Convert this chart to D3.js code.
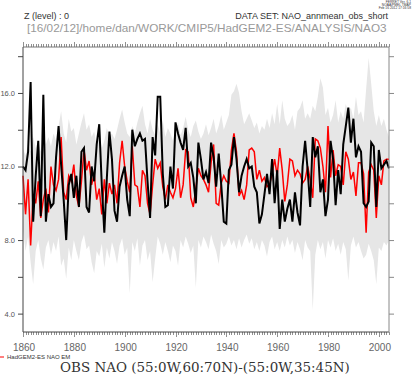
<!DOCTYPE html>
<html>
<head>
<meta charset="utf-8">
<script src="https://cdn.jsdelivr.net/npm/d3@7"></script>
<style>
body { margin: 0; background: #fff; }
</style>
</head>
<body>
<svg id="plot"></svg>
<script>
const WIDTH = 413;
const HEIGHT = 377;

const LEFT = 23;
const RIGHT = 389;
const TOP = 47;
const BOTTOM = 332;

const YEAR_MIN = 1860;
const YEAR_MAX = 2004;
const Y_MIN = 3.0;
const Y_MAX = 18.5;

const SANS = "Liberation Sans, DejaVu Sans, sans-serif";
const SERIF = "DejaVu Serif, Liberation Serif, serif";

// one value per year, 1860..2004
const years = d3.range(1860, 2005);

const obsNao = [
	12.0, 11.8, 12.8, 16.6, 9.0, 11.5, 13.4, 9.3, 15.9, 9.0,
	10.5, 9.8, 10.0, 12.5, 14.2, 12.1, 10.2, 8.0, 11.0, 11.6,
	10.3, 11.5, 9.8, 12.8, 13.0, 9.8, 9.5, 12.0, 11.2, 13.2,
	14.3, 11.0, 8.4, 11.4, 13.9, 12.4, 9.6, 9.0, 10.9, 11.5,
	12.0, 10.2, 9.3, 14.0, 13.1, 13.5, 13.8, 13.4, 13.5, 11.2,
	9.2, 13.6, 12.6, 15.8, 15.8, 11.6, 9.8, 9.9, 12.0, 10.8,
	14.4, 13.8, 13.3, 12.9, 14.1, 12.0, 12.2, 11.4, 10.0, 13.3,
	12.4, 11.3, 11.7, 11.1, 13.3, 12.5, 10.9, 12.7, 11.0, 9.0,
	8.9, 11.8, 12.1, 13.6, 12.4, 10.6, 11.5, 12.0, 12.4, 11.9,
	12.0, 10.9, 10.6, 8.9, 9.4, 10.5, 11.6, 10.5, 12.4, 10.0,
	11.8, 8.6, 10.2, 9.0, 9.7, 10.2, 9.0, 10.6, 9.5, 8.8,
	12.0, 13.4, 11.8, 9.8, 13.6, 12.5, 13.1, 10.6, 11.3, 9.3,
	10.2, 13.4, 12.4, 9.9, 11.8, 10.5, 13.2, 14.2, 15.2, 13.3,
	14.6, 12.5, 13.1, 12.8, 10.0, 9.8, 10.1, 13.3, 13.1, 9.8,
	12.9, 11.9, 12.1, 12.3, 11.9,
];

const modelMean = [
	11.5, 9.4, 11.3, 7.7, 10.5, 10.0, 11.2, 9.2, 10.2, 10.8,
	9.5, 12.0, 11.0, 10.7, 11.3, 13.6, 10.6, 10.2, 11.5, 11.2,
	12.1, 10.4, 9.8, 11.2, 12.9, 11.8, 12.3, 11.0, 11.6, 10.2,
	10.8, 9.4, 11.3, 10.0, 11.1, 10.5, 11.0, 10.0, 12.2, 13.4,
	12.0, 11.2, 10.6, 13.1, 11.0, 10.9, 9.8, 11.8, 11.5, 10.0,
	9.4, 11.0, 12.4, 11.9, 12.2, 10.9, 10.2, 11.0, 10.6, 10.3,
	10.8, 11.9, 10.3, 11.0, 12.9, 12.8, 10.3, 9.8, 10.8, 11.9,
	11.5, 11.3, 11.0, 10.6, 12.2, 13.2, 10.0, 9.9, 11.1, 11.5,
	11.2, 11.1, 12.9, 13.8, 12.8, 10.4, 10.7, 10.2, 11.0, 12.9,
	13.0, 12.8, 11.3, 11.8, 11.2, 11.4, 10.9, 11.0, 11.6, 12.4,
	11.5, 13.0, 11.8, 10.1, 11.0, 12.4, 12.3, 11.5, 11.8, 11.6,
	11.1, 11.3, 12.0, 11.3, 10.3, 13.5, 13.4, 13.0, 12.0, 10.6,
	14.2, 11.4, 12.9, 11.5, 12.1, 12.0, 11.0, 12.8, 12.4, 11.3,
	11.7, 10.4, 12.2, 12.2, 11.6, 8.4, 11.7, 12.1, 11.8, 9.2,
	11.5, 11.0, 12.3, 12.4, 12.4,
];

const modelMax = [
	13.0, 12.6, 13.2, 12.8, 13.6, 13.0, 13.4, 12.8, 13.9, 13.2,
	13.6, 13.1, 13.8, 13.4, 14.2, 15.0, 13.8, 13.3, 14.6, 13.9,
	14.1, 13.2, 13.8, 14.4, 14.9, 14.0, 14.3, 13.6, 13.9, 13.1,
	13.8, 13.0, 13.4, 14.1, 13.6, 13.8, 13.5, 14.0, 14.6, 15.1,
	14.4, 13.8, 13.6, 14.2, 13.8, 14.4, 14.9, 15.3, 14.3, 13.8,
	14.6, 14.0, 13.7, 14.3, 13.8, 14.5, 13.6, 14.1, 13.8, 13.4,
	14.0, 14.4, 13.7, 14.1, 14.7, 14.0, 13.6, 14.2, 14.5, 13.9,
	13.5, 13.8, 14.3, 13.7, 14.1, 14.6, 13.8, 14.2, 14.8, 14.0,
	14.4, 14.8, 15.9, 16.1, 16.5, 16.0, 15.0, 14.3, 14.6, 14.9,
	14.5, 14.1, 14.4, 13.8, 14.2, 14.0, 14.6, 14.1, 14.9, 14.3,
	15.4, 14.3, 15.6, 14.6, 14.2, 14.4, 14.8, 14.0, 15.0, 15.2,
	15.6, 14.6, 14.9, 14.6, 15.3, 15.0, 15.8, 16.8, 16.3, 14.8,
	15.2, 14.4, 14.8, 15.6, 14.4, 15.0, 14.6, 15.4, 14.9, 15.2,
	14.6, 15.8, 14.8, 15.0, 14.4, 16.2, 17.9, 16.5, 15.0, 14.2,
	14.8, 14.2, 14.6, 14.0, 13.6,
];

const modelMin = [
	8.6, 7.4, 8.2, 6.8, 5.6, 7.4, 8.0, 7.0, 6.4, 7.6,
	8.0, 7.2, 7.9, 7.4, 8.2, 6.6, 7.0, 5.9, 7.6, 6.9,
	8.0, 7.4, 6.9, 7.9, 8.3, 7.5, 7.7, 6.8, 6.2, 7.4,
	7.1, 7.8, 6.5, 7.6, 7.0, 7.9, 7.4, 6.7, 7.7, 8.1,
	7.2, 7.6, 5.1, 7.9, 7.4, 8.1, 6.6, 7.7, 8.0, 6.9,
	7.4, 5.7, 7.0, 8.2, 7.8, 7.2, 7.9, 7.4, 6.8, 7.7,
	7.4, 6.6, 8.0, 7.6, 8.2, 7.8, 7.3, 7.7, 5.4, 8.0,
	7.6, 8.2, 7.9, 7.5, 8.3, 7.8, 7.4, 6.7, 8.0, 7.6,
	7.8, 8.2, 7.7, 8.0, 7.5, 8.1, 7.6, 8.0, 8.3, 7.8,
	8.1, 7.5, 7.9, 7.4, 8.0, 7.7, 7.1, 7.9, 8.2, 7.5,
	7.9, 7.4, 8.0, 7.6, 8.2, 7.7, 8.0, 7.3, 7.9, 7.5,
	6.9, 8.0, 7.6, 7.4, 4.2, 7.2, 8.0, 7.5, 7.9, 7.0,
	8.0, 7.6, 8.1, 7.4, 7.8, 7.2, 7.9, 7.5, 5.8, 7.7,
	8.2, 7.6, 7.9, 7.4, 7.0, 7.2, 7.8, 7.4, 6.9, 5.6,
	7.6, 7.4, 7.9, 7.7, 8.0,
];

const yTicks = [4, 6, 8, 10, 12, 14, 16, 18];
const yLabels = [4, 8, 12, 16];
const xLabels = [1860, 1880, 1900, 1920, 1940, 1960, 1980, 2000];

const plot = d3.select("#plot").attr("width", WIDTH).attr("height", HEIGHT);

const xScale = d3.scaleLinear([YEAR_MIN, YEAR_MAX], [LEFT, RIGHT]);
const yScale = d3.scaleLinear([Y_MIN, Y_MAX], [BOTTOM, TOP]);

const rows = years.map((year, i) => ({
	year,
	obs: obsNao[i],
	mean: modelMean[i],
	lo: modelMin[i],
	hi: modelMax[i],
}));

// squeeze a text into a given width by picking its font size
function fitText(sel, width) {
	const node = sel.node();
	const size = parseFloat(sel.attr("font-size"));
	const w = node.getComputedTextLength();
	sel.attr("font-size", (size * width) / w);
	return sel;
}

// ensemble spread
plot.append("path")
	.datum(rows)
	.attr("d", d3.area()
		.x(d => xScale(d.year))
		.y0(d => yScale(d.lo))
		.y1(d => yScale(d.hi)))
	.attr("fill", "#e6e6e6");

plot.append("path")
	.datum(rows)
	.attr("d", d3.line().x(d => xScale(d.year)).y(d => yScale(d.mean)))
	.attr("fill", "none")
	.attr("stroke", "#ff0000")
	.attr("stroke-width", 1.5);

plot.append("path")
	.datum(rows)
	.attr("d", d3.line().x(d => xScale(d.year)).y(d => yScale(d.obs)))
	.attr("fill", "none")
	.attr("stroke", "#000")
	.attr("stroke-width", 2);

// frame and ticks, FERRET style
const axisColor = "#444";
const allYears = d3.range(YEAR_MIN, YEAR_MAX + 1);

const xTickG = plot.append("g").attr("stroke", axisColor).attr("stroke-width", 0.6);
for (const yr of allYears) {
	const major = yr % 20 === 0;
	const x = Math.round(xScale(yr)) + 0.5;
	xTickG.append("line")
		.attr("x1", x).attr("x2", x)
		.attr("y1", BOTTOM).attr("y2", BOTTOM + (major ? 5 : 3));
	xTickG.append("line")
		.attr("x1", x).attr("x2", x)
		.attr("y1", TOP).attr("y2", TOP - (major ? 5 : 3));
}

plot.append("line")
	.attr("x1", LEFT).attr("x2", RIGHT)
	.attr("y1", BOTTOM).attr("y2", BOTTOM)
	.attr("stroke", axisColor);
plot.append("line")
	.attr("x1", LEFT).attr("x2", RIGHT)
	.attr("y1", TOP).attr("y2", TOP)
	.attr("stroke", "#777");

const leftAxis = d3.axisLeft(yScale)
	.tickValues(yTicks)
	.tickSize(5)
	.tickFormat(d => (yLabels.includes(d) ? d3.format(".1f")(d) : ""));
plot.append("g")
	.attr("transform", `translate(${LEFT},0)`)
	.call(leftAxis)
	.call(g => g.select(".domain").attr("stroke", axisColor).attr("d", `M0,${BOTTOM}V${TOP}`))
	.call(g => g.selectAll(".tick line").attr("stroke", axisColor))
	.call(g => g.selectAll(".tick text")
		.attr("fill", "#555")
		.attr("font-size", 7.5)
		.attr("font-family", SANS)
		.attr("x", -8));

const rightAxis = d3.axisRight(yScale)
	.tickValues(yTicks)
	.tickSize(5)
	.tickFormat("");
plot.append("g")
	.attr("transform", `translate(${RIGHT},0)`)
	.call(rightAxis)
	.call(g => g.select(".domain").attr("stroke", "#888").attr("d", `M0,${BOTTOM}V${TOP}`))
	.call(g => g.selectAll(".tick line").attr("stroke", "#888"));

plot.append("g")
	.selectAll("text")
	.data(xLabels)
	.join("text")
	.attr("x", d => xScale(d) + 1)
	.attr("y", BOTTOM + 19)
	.attr("text-anchor", "middle")
	.attr("font-family", SANS)
	.attr("font-size", 10)
	.attr("fill", "#666")
	.text(d => d);

// header
plot.append("text")
	.attr("x", 24).attr("y", 18.5)
	.attr("font-family", SANS)
	.attr("font-size", 9).attr("fill", "#333")
	.text("Z (level) : 0");

plot.append("text")
	.attr("x", 388).attr("y", 18.5)
	.attr("text-anchor", "end")
	.attr("font-family", SANS)
	.attr("font-size", 9).attr("fill", "#333")
	.text("DATA SET: NAO_annmean_obs_short");

plot.append("text")
	.attr("x", 27).attr("y", 32)
	.attr("font-family", SANS)
	.attr("font-size", 12).attr("fill", "#999")
	.text("[16/02/12]/home/dan/WORK/CMIP5/HadGEM2-ES/ANALYSIS/NAO3")
	.call(fitText, 360);

const stamp = ["FERRET Ver. 6.1", "NOAA/PMEL TMAP", "Feb 16 2012 17:16:58"];
plot.append("g")
	.selectAll("text")
	.data(stamp)
	.join("text")
	.attr("x", 411)
	.attr("y", (d, i) => 3 + i * 3.2)
	.attr("text-anchor", "end")
	.attr("font-family", SANS)
	.attr("font-size", 3.3)
	.attr("fill", "#333")
	.text(d => d);

// legend
plot.append("line")
	.attr("x1", 0).attr("x2", 4)
	.attr("y1", 357).attr("y2", 357)
	.attr("stroke", "#ff0000");
plot.append("text")
	.attr("x", 7).attr("y", 359)
	.attr("font-family", SANS)
	.attr("font-size", 6).attr("fill", "#333")
	.text("HadGEM2-ES NAO EM");

// title
plot.append("text")
	.attr("x", 60)
	.attr("y", 372)
	.attr("font-family", SERIF)
	.attr("font-size", 14).attr("fill", "#333")
	.text("OBS NAO (55:0W,60:70N)-(55:0W,35:45N)")
	.call(fitText, 290);
</script>
</body>
</html>
